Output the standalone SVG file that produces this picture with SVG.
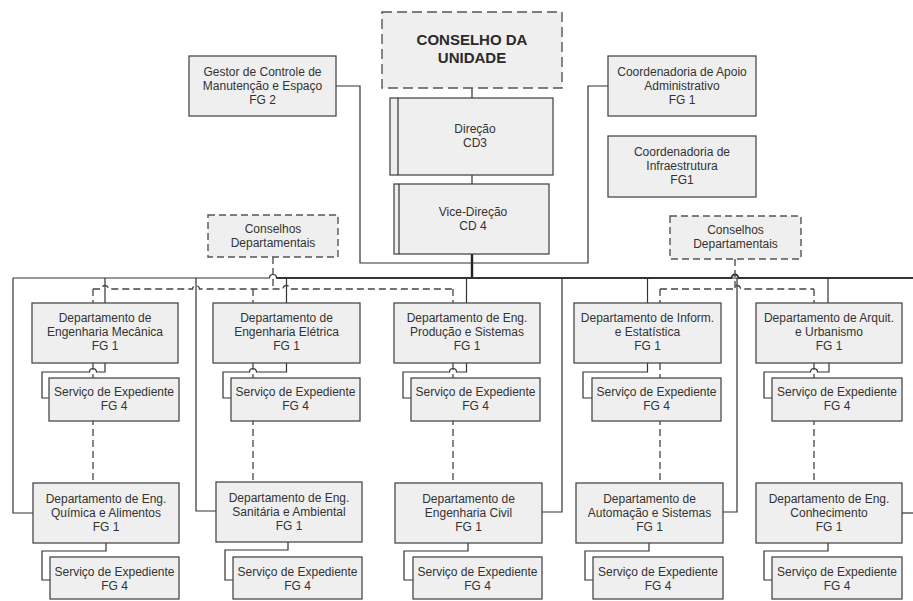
<svg xmlns="http://www.w3.org/2000/svg" width="913" height="601" viewBox="0 0 913 601">
  <style>
    .box { fill: #efefef; stroke: #4a4a4a; stroke-width: 1.3; }
    .dbox { fill: #efefef; stroke: #555; stroke-width: 1.4; stroke-dasharray: 7 4; }
    .big { stroke-dasharray: 10 5; }
    .t { font-family: "Liberation Sans", Arial, sans-serif; font-size: 12px; fill: #333; text-anchor: middle; }
    .tb { font-family: "Liberation Sans", Arial, sans-serif; font-size: 15px; font-weight: bold; fill: #2a2a2a; text-anchor: middle; }
    .ln { fill: none; stroke: #333; stroke-width: 1.2; }
    .thick { fill: none; stroke: #222; stroke-width: 2.4; }
    .dash { fill: none; stroke: #444; stroke-width: 1.3; stroke-dasharray: 7 4; }
  </style>

  <!-- connectors -->
  <g id="connectors">
    <!-- top chain -->
    <path class="ln" d="M472,88 V98"/>
    <path class="ln" d="M472,175 V184"/>
    <path class="thick" d="M472,254 V278"/>
    <path class="ln" d="M336,86 H360 V263 H588 V86 H608"/>

    <!-- main bus -->
    <path class="ln" d="M13,278 H269.5 a3.5,3.5 0 0 1 7,0 H913"/>
    <path class="ln" style="stroke-width:1.8" d="M276.5,278 H731.5 a3.5,3.5 0 0 1 7,0 H913"/>

    <!-- bus to departments -->
    <path class="ln" d="M13,278 V513 H33"/>
    <path class="ln" d="M105,278 V303"/>
    <path class="ln" d="M196,278 V511 H216"/>
    <path class="ln" d="M286.5,278 V303"/>
    <path class="ln" d="M466.5,278 V303"/>
    <path class="ln" d="M562,278 V512 H542"/>
    <path class="ln" d="M647.5,278 V303"/>
    <path class="ln" d="M737,278 V512 H723"/>
    <path class="ln" d="M828,278 V303"/>
    <path class="ln" d="M913,513 H902"/>

    <!-- department to service, upper row -->
    <path class="ln" d="M105,363 V372 H96.5 a3.5,3.5 0 0 0 -7,0 H42 V398 H49"/>
    <path class="ln" d="M286.5,363 V372 H256.5 a3.5,3.5 0 0 0 -7,0 H223 V398 H231"/>
    <path class="ln" d="M466.5,363 V372 H456.5 a3.5,3.5 0 0 0 -7,0 H403 V398 H411"/>
    <path class="ln" d="M647.5,363 V372 H583 V398 H592"/>
    <path class="ln" d="M829,363 V372 H817.5 a3.5,3.5 0 0 0 -7,0 H764 V398 H772"/>

    <!-- department to service, lower row -->
    <path class="ln" d="M106,543 V551 H42 V580 H50"/>
    <path class="ln" d="M288,542 V550 H225 V580 H233"/>
    <path class="ln" d="M468,543 V551 H404 V580 H413"/>
    <path class="ln" d="M649,543 V551 H585 V580 H593"/>
    <path class="ln" d="M828,543 V551 H764 V580 H772"/>

    <!-- departmental councils (dashed) -->
    <path class="dash" d="M273,257 V289"/>
    <path class="dash" d="M93,289 H101.5 a3.5,3.5 0 0 1 7,0 H192.5 a3.5,3.5 0 0 1 7,0 H283 a3.5,3.5 0 0 1 7,0 H453"/>
    <path class="dash" d="M93,289 V303"/>
    <path class="dash" d="M253,289 V303"/>
    <path class="dash" d="M453,289 V303"/>

    <path class="dash" d="M735,259 V289"/>
    <path class="dash" d="M660,289 H733.5 a3.5,3.5 0 0 1 7,0 H814"/>
    <path class="dash" d="M660,289 V303"/>
    <path class="dash" d="M814,289 V303"/>

    <!-- department to department (dashed) -->
    <path class="dash" d="M93,363 V483"/>
    <path class="dash" d="M253,363 V482"/>
    <path class="dash" d="M453,363 V483"/>
    <path class="dash" d="M660,363 V483"/>
    <path class="dash" d="M814,363 V483"/>
  </g>

  <!-- top level -->
  <g id="conselho-unidade">
    <rect class="dbox big" x="382" y="12" width="180" height="76"/>
    <text class="tb" x="472" y="45">CONSELHO DA</text>
    <text class="tb" x="472" y="63">UNIDADE</text>
  </g>

  <g id="gestor">
    <rect class="box" x="189" y="56" width="147" height="60"/>
    <text class="t" x="262.5" y="75.5">Gestor de Controle de</text>
    <text class="t" x="262.5" y="89.5">Manutenção e Espaço</text>
    <text class="t" x="262.5" y="103.5">FG 2</text>
  </g>

  <g id="direcao">
    <rect class="box" x="390" y="98" width="163" height="77"/>
    <line class="ln" x1="398" y1="98" x2="398" y2="175"/>
    <text class="t" x="475" y="133">Direção</text>
    <text class="t" x="475" y="147">CD3</text>
  </g>

  <g id="vice-direcao">
    <rect class="box" x="394" y="184" width="155" height="70"/>
    <line class="ln" x1="399" y1="184" x2="399" y2="254"/>
    <text class="t" x="473" y="216">Vice-Direção</text>
    <text class="t" x="473" y="230">CD 4</text>
  </g>

  <g id="coord-apoio">
    <rect class="box" x="608" y="56" width="148" height="60"/>
    <text class="t" x="682" y="75.5">Coordenadoria de Apoio</text>
    <text class="t" x="682" y="89.5">Administrativo</text>
    <text class="t" x="682" y="103.5">FG 1</text>
  </g>

  <g id="coord-infra">
    <rect class="box" x="608" y="136" width="148" height="61"/>
    <text class="t" x="682" y="155.5">Coordenadoria de</text>
    <text class="t" x="682" y="169.5">Infraestrutura</text>
    <text class="t" x="682" y="183.5">FG1</text>
  </g>

  <g id="conselhos-dep-1">
    <rect class="dbox" x="208" y="215" width="130" height="42"/>
    <text class="t" x="273" y="233">Conselhos</text>
    <text class="t" x="273" y="247">Departamentais</text>
  </g>

  <g id="conselhos-dep-2">
    <rect class="dbox" x="670" y="216" width="131" height="43"/>
    <text class="t" x="735.5" y="234">Conselhos</text>
    <text class="t" x="735.5" y="248">Departamentais</text>
  </g>

  <!-- departments, upper row -->
  <g id="dep-mecanica">
    <rect class="box" x="32" y="303" width="146" height="60"/>
    <text class="t" x="105" y="322">Departamento de</text>
    <text class="t" x="105" y="336">Engenharia Mecânica</text>
    <text class="t" x="105" y="350">FG 1</text>
  </g>
  <g id="serv-mecanica">
    <rect class="box" x="49" y="378" width="130" height="43"/>
    <text class="t" x="114" y="396">Serviço de Expediente</text>
    <text class="t" x="114" y="410">FG 4</text>
  </g>

  <g id="dep-eletrica">
    <rect class="box" x="213" y="303" width="147" height="60"/>
    <text class="t" x="286.5" y="322">Departamento de</text>
    <text class="t" x="286.5" y="336">Engenharia Elétrica</text>
    <text class="t" x="286.5" y="350">FG 1</text>
  </g>
  <g id="serv-eletrica">
    <rect class="box" x="231" y="378" width="129" height="43"/>
    <text class="t" x="295.5" y="396">Serviço de Expediente</text>
    <text class="t" x="295.5" y="410">FG 4</text>
  </g>

  <g id="dep-producao">
    <rect class="box" x="394" y="303" width="146" height="60"/>
    <text class="t" x="467" y="322">Departamento de Eng.</text>
    <text class="t" x="467" y="336">Produção e Sistemas</text>
    <text class="t" x="467" y="350">FG 1</text>
  </g>
  <g id="serv-producao">
    <rect class="box" x="411" y="378" width="129" height="43"/>
    <text class="t" x="475.5" y="396">Serviço de Expediente</text>
    <text class="t" x="475.5" y="410">FG 4</text>
  </g>

  <g id="dep-informatica">
    <rect class="box" x="574" y="303" width="147" height="60"/>
    <text class="t" x="647.5" y="322">Departamento de Inform.</text>
    <text class="t" x="647.5" y="336">e Estatística</text>
    <text class="t" x="647.5" y="350">FG 1</text>
  </g>
  <g id="serv-informatica">
    <rect class="box" x="592" y="378" width="129" height="43"/>
    <text class="t" x="656.5" y="396">Serviço de Expediente</text>
    <text class="t" x="656.5" y="410">FG 4</text>
  </g>

  <g id="dep-arquitetura">
    <rect class="box" x="756" y="303" width="146" height="60"/>
    <text class="t" x="829" y="322">Departamento de Arquit.</text>
    <text class="t" x="829" y="336">e Urbanismo</text>
    <text class="t" x="829" y="350">FG 1</text>
  </g>
  <g id="serv-arquitetura">
    <rect class="box" x="772" y="378" width="130" height="43"/>
    <text class="t" x="837" y="396">Serviço de Expediente</text>
    <text class="t" x="837" y="410">FG 4</text>
  </g>

  <!-- departments, lower row -->
  <g id="dep-quimica">
    <rect class="box" x="33" y="483" width="146" height="60"/>
    <text class="t" x="106" y="503">Departamento de Eng.</text>
    <text class="t" x="106" y="517">Química e Alimentos</text>
    <text class="t" x="106" y="531">FG 1</text>
  </g>
  <g id="serv-quimica">
    <rect class="box" x="50" y="557" width="129" height="42"/>
    <text class="t" x="114.5" y="576">Serviço de Expediente</text>
    <text class="t" x="114.5" y="590">FG 4</text>
  </g>

  <g id="dep-sanitaria">
    <rect class="box" x="216" y="482" width="146" height="60"/>
    <text class="t" x="289" y="502">Departamento de Eng.</text>
    <text class="t" x="289" y="516">Sanitária e Ambiental</text>
    <text class="t" x="289" y="530">FG 1</text>
  </g>
  <g id="serv-sanitaria">
    <rect class="box" x="233" y="557" width="129" height="42"/>
    <text class="t" x="297.5" y="576">Serviço de Expediente</text>
    <text class="t" x="297.5" y="590">FG 4</text>
  </g>

  <g id="dep-civil">
    <rect class="box" x="395" y="483" width="147" height="60"/>
    <text class="t" x="468.5" y="503">Departamento de</text>
    <text class="t" x="468.5" y="517">Engenharia Civil</text>
    <text class="t" x="468.5" y="531">FG 1</text>
  </g>
  <g id="serv-civil">
    <rect class="box" x="413" y="557" width="129" height="42"/>
    <text class="t" x="477.5" y="576">Serviço de Expediente</text>
    <text class="t" x="477.5" y="590">FG 4</text>
  </g>

  <g id="dep-automacao">
    <rect class="box" x="576" y="483" width="147" height="60"/>
    <text class="t" x="649.5" y="503">Departamento de</text>
    <text class="t" x="649.5" y="517">Automação e Sistemas</text>
    <text class="t" x="649.5" y="531">FG 1</text>
  </g>
  <g id="serv-automacao">
    <rect class="box" x="593" y="557" width="130" height="42"/>
    <text class="t" x="658" y="576">Serviço de Expediente</text>
    <text class="t" x="658" y="590">FG 4</text>
  </g>

  <g id="dep-conhecimento">
    <rect class="box" x="756" y="483" width="146" height="60"/>
    <text class="t" x="829" y="503">Departamento de Eng.</text>
    <text class="t" x="829" y="517">Conhecimento</text>
    <text class="t" x="829" y="531">FG 1</text>
  </g>
  <g id="serv-conhecimento">
    <rect class="box" x="772" y="557" width="130" height="42"/>
    <text class="t" x="837" y="576">Serviço de Expediente</text>
    <text class="t" x="837" y="590">FG 4</text>
  </g>
</svg>
